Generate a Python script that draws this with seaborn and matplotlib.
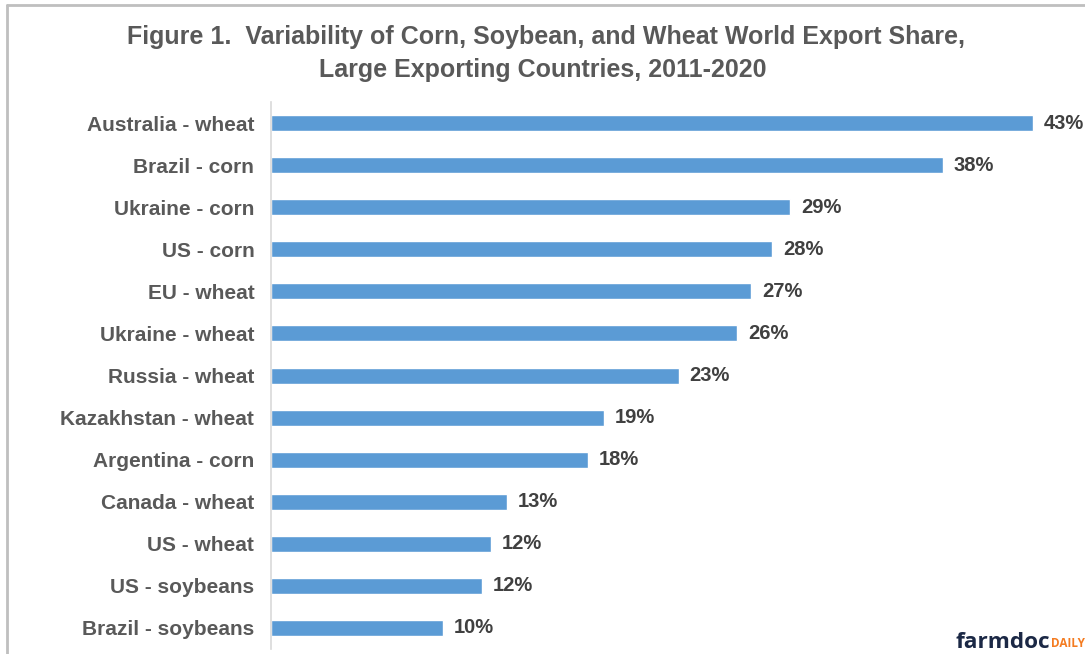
import matplotlib
matplotlib.use("Agg")
import matplotlib.pyplot as plt
import seaborn as sns
import pandas as pd
from matplotlib.lines import Line2D

# ---------------- data ------------------#
labels = ["Australia - wheat", "Brazil - corn", "Ukraine - corn", "US - corn",
          "EU - wheat", "Ukraine - wheat", "Russia - wheat", "Kazakhstan - wheat",
          "Argentina - corn", "Canada - wheat", "US - wheat", "US - soybeans",
          "Brazil - soybeans"]
variability = [43.0, 37.9, 29.3, 28.3, 27.1, 26.3, 23.0, 18.8, 17.9, 13.3, 12.4, 11.9, 9.7]

df = pd.DataFrame({"Market": labels, "Variability (%)": variability})

# ---------------- plot ------------------#
sns.set_style("white")
plt.rcParams["font.family"] = ["Liberation Sans", "DejaVu Sans"]

fig = plt.figure(figsize=(10.85, 6.54), dpi=100)
ax = fig.add_axes([0.2498, 0.0076, 0.7348, 0.8364])

sns.barplot(data=df, x="Variability (%)", y="Market", orient="h",
            color="#5B9BD5", saturation=1, width=0.38, ax=ax)

ax.set_xlim(0, 45)
ax.set_ylim(len(labels) - 0.5, -0.5)
ax.set_xlabel("")
ax.set_ylabel("")
ax.set_xticks([])
for s in ["top", "right", "bottom"]:
    ax.spines[s].set_visible(False)
ax.spines["left"].set_color("#d9d9d9")
ax.spines["left"].set_linewidth(1.2)
ax.tick_params(axis="y", length=0, pad=12)
for t in ax.get_yticklabels():
    t.set_fontsize(15)
    t.set_fontweight("bold")
    t.set_color("#595959")

# value labels
for i, v in enumerate(variability):
    ax.text(v + 0.62, i, f"{v:.0f}%", va="center", ha="left",
            fontsize=14.5, fontweight="bold", color="#404040")

# title (two lines)
fig.text(0.503, 1 - 37 / 654, "Figure 1.  Variability of Corn, Soybean, and Wheat World Export Share,",
         ha="center", va="center", fontsize=18, fontweight="bold", color="#595959")
fig.text(0.500, 1 - 70 / 654, "Large Exporting Countries, 2011-2020",
         ha="center", va="center", fontsize=18, fontweight="bold", color="#595959")

# frame lines (top and left)
fig.add_artist(Line2D([7 / 1085, 1], [1 - 5 / 654, 1 - 5 / 654], transform=fig.transFigure,
                      color="#bfbfbf", lw=2))
fig.add_artist(Line2D([7 / 1085, 7 / 1085], [0, 1 - 5 / 654], transform=fig.transFigure,
                      color="#bfbfbf", lw=2))

# farmdoc logo
fig.text(956 / 1085, 1 - 648 / 654, "farmdoc", ha="left", va="baseline", fontsize=16.2,
         fontweight="bold", color="#1b2845", family=["Open Sans", "DejaVu Sans"])
fig.text(1051 / 1085, 1 - 647 / 654, "DAILY", ha="left", va="baseline", fontsize=8.5,
         fontweight="bold", color="#f47b20", family=["Open Sans", "DejaVu Sans"])

fig.savefig("out.png", dpi=100)
